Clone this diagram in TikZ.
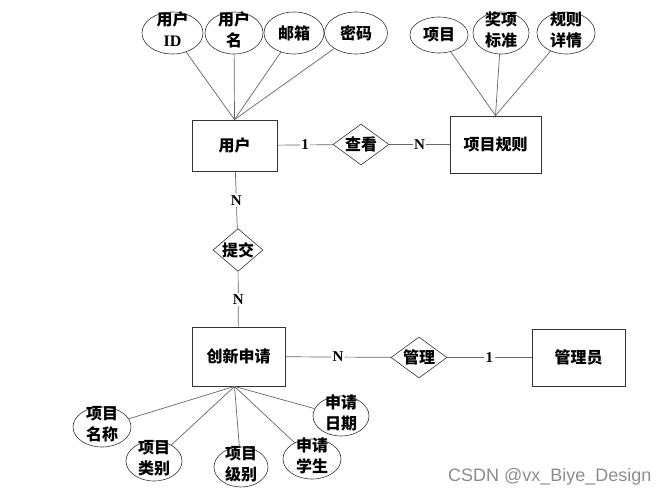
\documentclass[tikz,border=0pt]{standalone}
\usepackage{fontspec}
\setmainfont{Liberation Serif}
\newfontfamily\cjk{Noto Sans CJK SC}
\newfontfamily\wmfont{Liberation Sans}
\usetikzlibrary{shapes.geometric,positioning}

\tikzset{
  entity/.style={draw=black!80, line width=0.8pt, minimum width=90pt, minimum height=56pt,
    inner sep=0pt, font=\cjk\bfseries\fontsize{16}{20}\selectfont},
  relation/.style={draw=black!80, diamond, line width=0.6pt, aspect=1.35, minimum width=56pt,
    minimum height=41pt, inner sep=0pt, font=\cjk\bfseries\fontsize{16}{20}\selectfont},
  attr/.style={draw=black!80, ellipse, line width=0.6pt, minimum width=58pt, minimum height=40pt,
    inner sep=0pt, font=\cjk\bfseries\fontsize{16}{20.5}\selectfont},
  link/.style={draw=black!60, line width=0.7pt},
  card/.style={fill=white, inner sep=1.5pt, font=\bfseries\fontsize{15}{17}\selectfont},
}
\newcommand{\twolines}[2]{\raisebox{-6.5pt}{\smash{\begin{tabular}{@{}c@{}}#1\\#2\end{tabular}}}}

\begin{document}
\begin{tikzpicture}[x=1pt, y=-1pt]
    \useasboundingbox (0,0) rectangle (669,497);

    % entities
    \node[entity, minimum width=85pt, minimum height=51pt] (user) at (234.5,145.5) {用户};
    \node[entity, minimum width=91pt, minimum height=57pt] (rule) at (495.5,144.5) {项目规则};
    \node[entity, minimum width=93pt, minimum height=59pt] (apply) at (238.5,356.5) {创新申请};
    \node[entity, minimum width=93pt, minimum height=57pt] (admin) at (578.5,357.5) {管理员};

    % relations
    \node[relation] (view) at (361,144.5) {查看};
    \node[relation, minimum width=48pt, aspect=1.17] (submit) at (238,250) {提交};
    \node[relation] (manage) at (419,357.5) {管理};

    % attributes of user
    \node[attr, minimum width=61pt, minimum height=42pt] (uid) at (172.5,33) {\twolines{用户}{\rmfamily ID}};
    \node[attr, minimum height=42pt] (uname) at (234,33) {\twolines{用户}{名}};
    \node[attr, minimum width=60pt, minimum height=42pt] (email) at (294,33) {邮箱};
    \node[attr, minimum width=63pt, minimum height=42pt] (pwd) at (356,33) {密码};

    % attributes of rule
    \node[attr, minimum height=36pt] (item) at (439,35) {项目};
    \node[attr, minimum width=56pt, minimum height=42pt] (award) at (501,33) {\twolines{奖项}{标准}};
    \node[attr, minimum height=42pt] (detail) at (566,33) {\twolines{规则}{详情}};

    % attributes of apply
    \node[attr] (pname) at (102,427) {\twolines{项目}{名称}};
    \node[attr, minimum width=56pt] (ptype) at (154,461) {\twolines{项目}{类别}};
    \node[attr, minimum width=54pt] (plevel) at (241,467) {\twolines{项目}{级别}};
    \node[attr] (pstud) at (312,459) {\twolines{申请}{学生}};
    \node[attr, minimum width=56pt] (pdate) at (341,416) {\twolines{申请}{日期}};

    \foreach \a in {uid,uname,email,pwd} \draw[link] (\a) -- (user.north);
    \foreach \a in {item,award,detail} \draw[link] (\a) -- (rule.north);
    \foreach \a in {pname,ptype,plevel,pstud,pdate} \draw[link] (\a) -- ([xshift=-4pt]apply.south);

    \draw[link] (user) -- node[card] {1} (view);
    \draw[link] (view) -- node[card] {N} (rule);
    \draw[link] (user) -- node[card] {N} (submit);
    \draw[link] (submit) -- node[card] {N} (apply);
    \draw[link] (apply) -- node[card] {N} (manage);
    \draw[link] (manage) -- node[card] {1} (admin);

    \node[font=\wmfont\fontsize{18}{20}\selectfont, text=black!45, anchor=east] (mark) at (655,477) {CSDN @vx\_Biye\_Design};
\end{tikzpicture}
\end{document}
